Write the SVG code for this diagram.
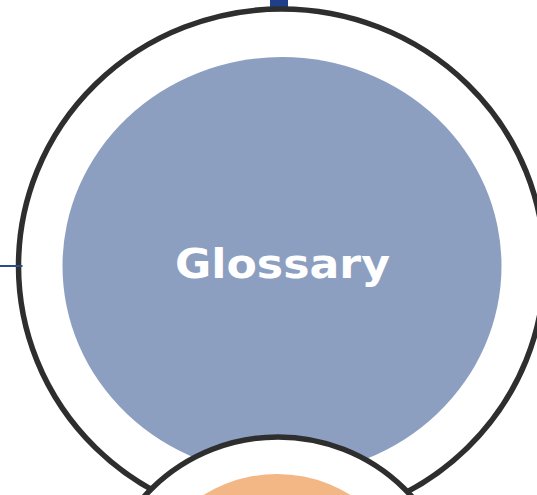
<svg xmlns="http://www.w3.org/2000/svg" width="537" height="495" viewBox="0 0 537 495">
<style>
.ring{fill:#ffffff;stroke:#2e2e2e;stroke-width:5.5}
.lbl{font-family:"DejaVu Sans",sans-serif;font-weight:bold;font-size:40px;fill:#ffffff}
</style>
<rect width="537" height="495" fill="#ffffff"/>
<g id="connectors">
<rect x="270" y="0" width="18" height="12" fill="#1f3f8a"/>
</g>
<g id="glossary">
<ellipse class="ring" cx="281.5" cy="266" rx="263" ry="257"/>
<ellipse cx="282" cy="266" rx="219.5" ry="209" fill="#8c9fc1"/>
<text class="lbl" x="282.5" y="278" text-anchor="middle" textLength="215" lengthAdjust="spacingAndGlyphs">Glossary</text>
</g>
<g id="connector-left">
<line x1="0" y1="266" x2="22.5" y2="266" stroke="#2b4b8c" stroke-width="2"/>
</g>
<g id="bottom-node">
<ellipse class="ring" cx="278" cy="612" rx="178" ry="175"/>
<ellipse cx="277" cy="608" rx="137" ry="134" fill="#f2b784"/>
</g>
</svg>
